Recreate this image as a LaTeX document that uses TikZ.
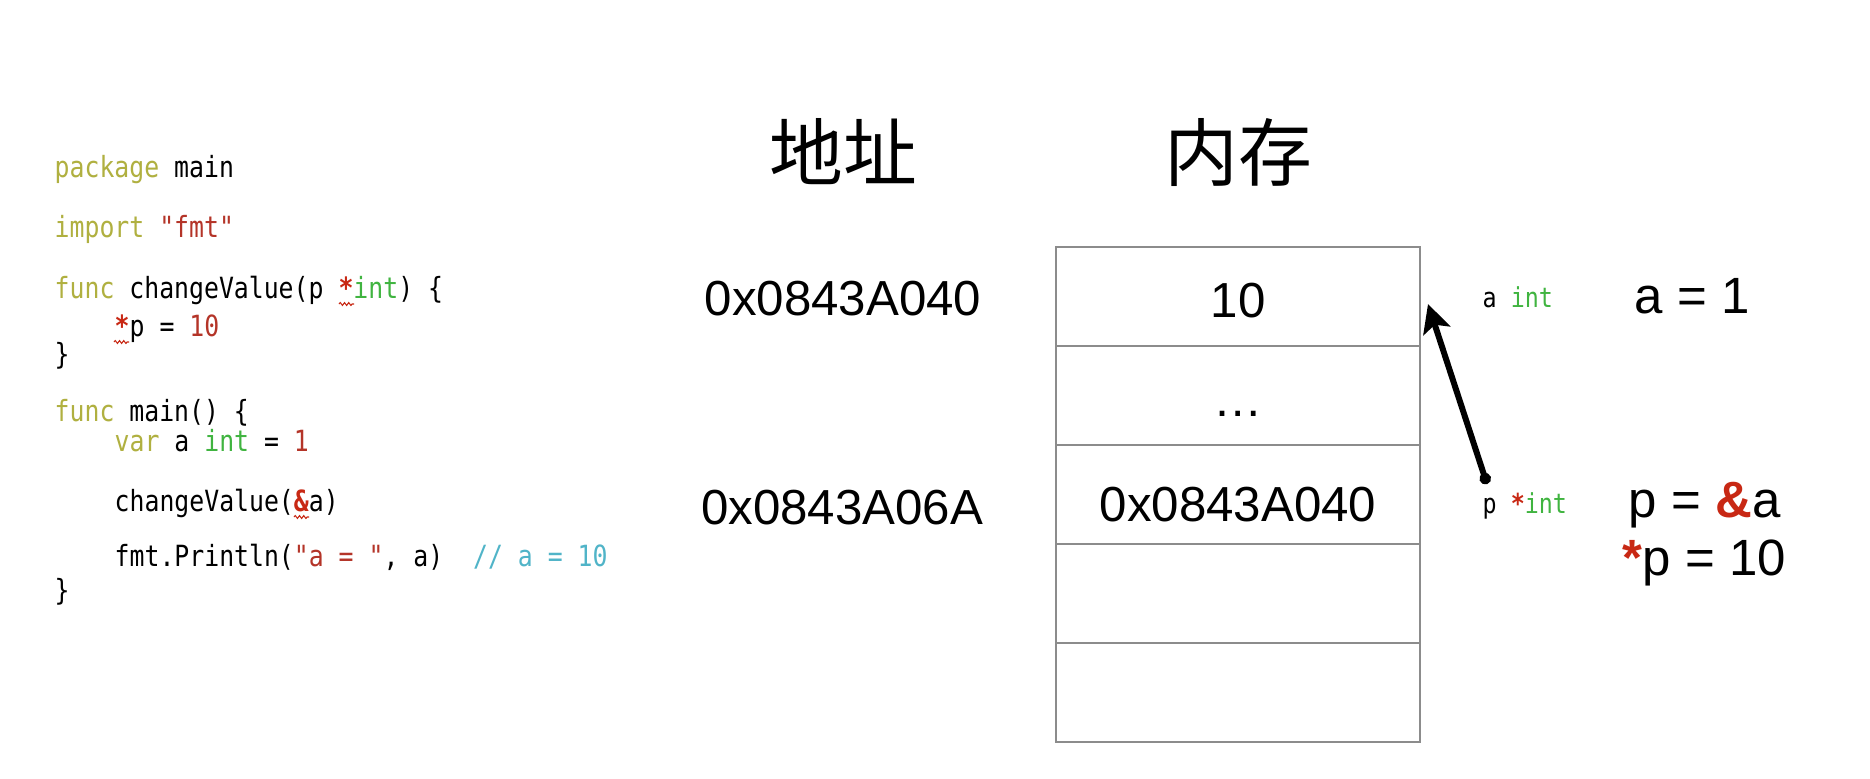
\documentclass[tikz,border=0pt]{standalone}
\usepackage{fontspec}
\setmainfont{Liberation Sans}
\newfontfamily\codefont[FakeStretch=0.85]{DejaVu Sans Mono}
\newfontfamily\cjkfont{Noto Sans CJK SC}
\definecolor{gokw}{RGB}{176,176,64}
\definecolor{gostr}{RGB}{180,52,40}
\definecolor{gotyp}{RGB}{64,180,64}
\definecolor{gocmt}{RGB}{80,180,200}
\definecolor{gored}{RGB}{200,40,20}
\definecolor{cellgray}{RGB}{140,140,140}
\newcommand{\gokw}[1]{\textcolor{gokw}{#1}}
\newcommand{\gostr}[1]{\textcolor{gostr}{#1}}
\newcommand{\gotyp}[1]{\textcolor{gotyp}{#1}}
\newcommand{\gocmt}[1]{\textcolor{gocmt}{#1}}
\newcommand{\gored}[1]{\textcolor{gored}{\bfseries #1}}
\usetikzlibrary{arrows.meta,positioning,decorations.pathmorphing}

\begin{document}
\begin{tikzpicture}[x=0.01cm,y=-0.01cm,
  code/.style={anchor=base west,inner sep=0pt,font=\codefont\fontsize{8.3}{10}\selectfont},
  var/.style={anchor=base west,inner sep=0pt,font=\codefont\fontsize{7.8}{9}\selectfont},
  addr/.style={inner sep=0pt,font=\fontsize{14}{16}\selectfont},
  eq/.style={anchor=base west,inner sep=0pt,font=\fontsize{14.5}{17}\selectfont},
  head/.style={inner sep=0pt,font=\cjkfont\fontsize{21}{25}\selectfont},
  cell/.style={draw=cellgray,line width=0.6pt,minimum width=3.64cm,minimum height=0.99cm,
    outer sep=0pt,inner sep=0pt,text height=0.41cm,text depth=0pt,font=\fontsize{14}{16}\selectfont},
  squiggle/.style={gored,line width=0.3pt,decorate,decoration={snake,amplitude=0.4pt,segment length=1.2pt}},
  ptr/.style={line width=1.7pt,{Circle[length=3.2pt]}-{Stealth[length=8pt,width=8pt,inset=1.8pt]}}]
  \fill[white] (0,0) rectangle (1870,778);
  \useasboundingbox (0,0) rectangle (1870,778);

  % source code
  \node[code] (l1) at (54,177) {\gokw{package} main};
  \node[code] (l3) at (54,237) {\gokw{import} \gostr{"fmt"}};
  \node[code] (l5) at (54,298) {\gokw{func} changeValue(p \gored{*}\gotyp{int}) \{};
  \node[code] (l6) at (114,336) {\gored{*}p = \gostr{10}};
  \node[code] (l7) at (54,364) {\}};
  \node[code] (l9) at (54,421) {\gokw{func} main() \{};
  \node[code] (l10) at (114,451) {\gokw{var} a \gotyp{int} = \gostr{1}};
  \node[code] (l12) at (114,511) {changeValue(\gored{\&}a)};
  \node[code] (l14) at (114,566) {fmt.Println(\gostr{"a = "}, a)\ \ \gocmt{// a = 10}};
  \node[code] (l15) at (54,600) {\}};
  \draw[squiggle] (339,304) -- (354,304);
  \draw[squiggle] (114,342) -- (129,342);
  \draw[squiggle] (294,517) -- (309,517);

  % headers
  \node[head] (haddr) at (843,152) {地址};
  \node[head] (hmem) at (1238,152) {内存};

  % memory cells
  \node[cell] (c1) at (1238,296.5) {10};
  \node[cell,below=0pt of c1] (c2) {\dots};
  \node[cell,below=0pt of c2,text height=0.53cm] (c3) {0x0843A040};
  \node[cell,below=0pt of c3] (c4) {};
  \node[cell,below=0pt of c4] (c5) {};

  % addresses
  \node[addr] (adra) at (843,299) {0x0843A040};
  \node[addr] (adrp) at (842,508) {0x0843A06A};

  % variables
  \node[var] (avar) at (1482,307) {a \gotyp{int}};
  \node[var] (pvar) at (1482,513) {p \gored{*}\gotyp{int}};
  \node[eq] (aeq) at (1634,313) {a = 1};
  \node[eq] (peq) at (1628,517) {p = \gored{\&}a};
  \node[eq] (deq) at (1622,575) {\gored{*}p = 10};

  \coordinate (pdot) at (1487,484);
  \coordinate (ptip) at (1428,304);
  \draw[ptr] (pdot) -- (ptip);
\end{tikzpicture}
\end{document}
